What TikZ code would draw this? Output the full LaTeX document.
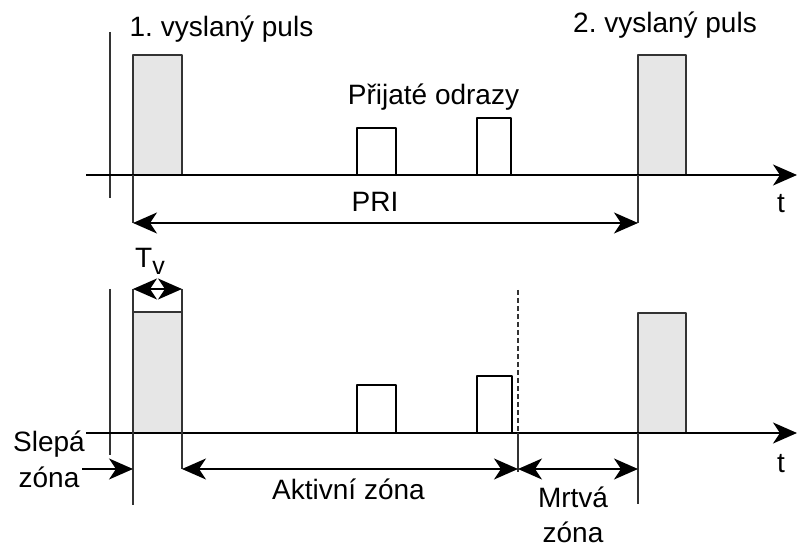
\documentclass[tikz,border=0pt]{standalone}
\usepackage{fontspec}
\setmainfont{Liberation Sans}
\usetikzlibrary{arrows.meta}
\definecolor{pulsefill}{HTML}{E6E6E6}
\definecolor{linegray}{HTML}{333333}
\frenchspacing

\begin{document}
\begin{tikzpicture}[>={Stealth[length=24bp,width=21bp,inset=7bp]},line join=bevel,line width=1.9bp,
  every node/.style={inner sep=0pt,font=\fontsize{28bp}{36bp}\selectfont},
  pulse/.style={draw=linegray,fill=pulsefill},
  echo/.style={draw=black,fill=white}]
\useasboundingbox (0bp,0bp) rectangle (797bp,548bp);
%% upper time axis
\coordinate (tx_1) at (133bp,325bp);
\coordinate (tx_2) at (638bp,325bp);
\coordinate (axis_a0) at (86bp,373bp);
\coordinate (axis_a1) at (797bp,373bp);
  \draw [pulse] (133bp,373bp) rectangle (182bp,493bp);
  \draw [pulse] (638bp,373bp) rectangle (686bp,493bp);
  \draw [echo] (357bp,373bp) rectangle (396bp,420bp);
  \draw [echo] (477bp,373bp) rectangle (511bp,430bp);
  \draw [linegray] (110bp,516bp) -- (110bp,350bp);
  \draw [black,->] (axis_a0) -- (axis_a1);
  \draw [linegray] (133bp,373bp) -- (tx_1);
  \draw [linegray] (638bp,373bp) -- (tx_2);
  \draw [black,<->] (tx_1) -- (tx_2);
\node (pulse_1) at (221.5bp,511bp) [anchor=base] {1. vyslaný puls};
  \node (pulse_2) at (665bp,515bp) [anchor=base] {2. vyslaný puls};
  \node (echoes) at (433.5bp,443bp) [anchor=base] {Přijaté odrazy};
  \node (pri) at (375bp,336bp) [anchor=base] {PRI};
  \node (t_a) at (781bp,335bp) [anchor=base] {t};
%% lower time axis
\coordinate (tv_0) at (133bp,259bp);
\coordinate (tv_1) at (182bp,259bp);
\coordinate (zone_0) at (82bp,79bp);
\coordinate (zone_1) at (133bp,79bp);
\coordinate (zone_2) at (182bp,79bp);
\coordinate (zone_3) at (518bp,79bp);
\coordinate (zone_4) at (638bp,79bp);
\coordinate (axis_b0) at (86bp,115bp);
\coordinate (axis_b1) at (797bp,115bp);
  \draw [pulse] (133bp,115bp) rectangle (182bp,236bp);
  \draw [pulse] (638bp,115bp) rectangle (686bp,235bp);
  \draw [echo] (357bp,115bp) rectangle (396bp,163bp);
  \draw [echo] (477bp,115bp) rectangle (512bp,172bp);
  \draw [linegray] (110bp,259bp) -- (110bp,93bp);
  \draw [black,->] (axis_b0) -- (axis_b1);
  \draw [linegray] (tv_0) -- (133bp,43bp);
  \draw [linegray] (tv_1) -- (zone_2);
  \draw [linegray,dash pattern=on 5bp off 3bp] (518bp,258bp) -- (518bp,115bp);
  \draw [linegray] (518bp,115bp) -- (518bp,76bp);
  \draw [linegray] (638bp,115bp) -- (638bp,44bp);
  \draw [black,<->] (tv_0) -- (tv_1);
  \draw [black,->] (zone_0) -- (zone_1);
  \draw [black,<->] (zone_2) -- (zone_3);
  \draw [black,<->] (zone_3) -- (zone_4);
\node (tv) at (150bp,280bp) [anchor=base] {T\raisebox{-7bp}{\fontsize{25bp}{30bp}\selectfont v}};
  \node (blind) at (49bp,60bp) [anchor=base,align=center] {Slepá\\zóna};
  \node (active) at (348.5bp,48bp) [anchor=base] {Aktivní zóna};
  \node (dead) at (573bp,6bp) [anchor=base,align=center,font=\fontsize{28bp}{35bp}\selectfont] {Mrtvá\\zóna};
  \node (t_b) at (781bp,75bp) [anchor=base] {t};
%
\end{tikzpicture}
\end{document}
